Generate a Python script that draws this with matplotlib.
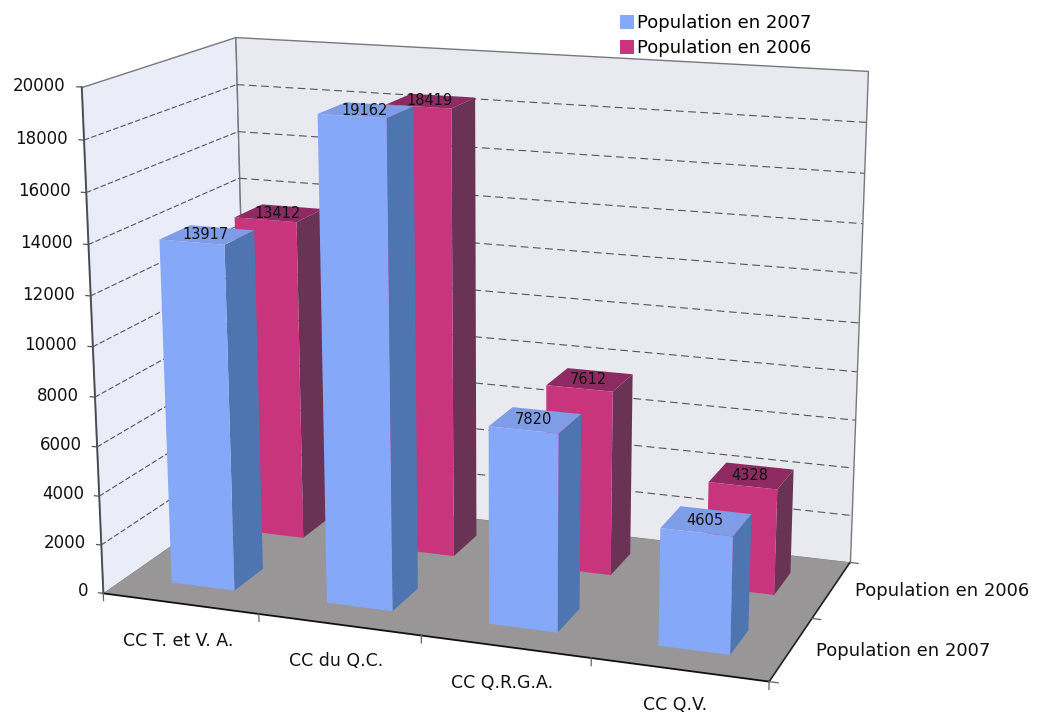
import numpy as np
import matplotlib
matplotlib.use('Agg')
import matplotlib.pyplot as plt
from matplotlib.patches import Patch
from mpl_toolkits.mplot3d import proj3d
from mpl_toolkits.mplot3d.art3d import Poly3DCollection

categories = ['CC T. et V. A.', 'CC du Q.C.', 'CC Q.R.G.A.', 'CC Q.V.']
series_names = ['Population en 2007', 'Population en 2006']
pop_2007 = [13917, 19162, 7820, 4605]
pop_2006 = [13412, 18419, 7612, 4328]
z_ticks = [0, 2000, 4000, 6000, 8000, 10000, 12000, 14000, 16000, 18000, 20000]
z_max = 20000

# camera: corners of the chart box (cat, series, value) and where they land in the image
box_pts = [(0, 0, 0), (4, 0, 0), (4, 2, 0), (0, 2, 0),
           (0, 0, z_max), (0, 2, z_max), (4, 2, z_max)]
img_pts = [(103, 593), (769, 682), (850, 562), (248, 493),
           (82, 87), (235, 37), (868, 71)]


def fit_camera(box, img):
    # least squares homography from 3d box to image, in -1..1 view coordinates
    rows = []
    for (x, y, z), (u, v) in zip(box, img):
        z = z / z_max
        u = u / 519 - 1
        v = 1 - v / 357.5
        rows.append([x, y, z, 1, 0, 0, 0, 0, -u*x, -u*y, -u*z, -u])
        rows.append([0, 0, 0, 0, x, y, z, 1, -v*x, -v*y, -v*z, -v])
    p = np.linalg.svd(np.array(rows))[2][-1].reshape(3, 4)
    p = p / p[2, 3]
    p = p @ np.diag([1, 1, 1 / z_max, 1])
    # third row only serves for depth sorting
    return np.array([p[0], p[1], [0, 0, 0, -1], p[2]])


cam = fit_camera(box_pts, img_pts)

fig = plt.figure(figsize=(10.38, 7.15), dpi=100)
ax = fig.add_axes([0, 0, 1, 1], projection='3d', computed_zorder=False)
ax.get_proj = lambda: cam
ax.apply_aspect = lambda position=None: None
ax.set_xticks([])
ax.set_yticks([])
ax.set_zticks([])
ax.set_axis_off()
ax.viewLim.intervalx = (-1, 1)
ax.viewLim.intervaly = (-1, 1)


def label(x, y, z, s, **kw):
    # put the text where the 3d point lands
    u, v, _ = proj3d.proj_transform(x, y, z, cam)
    ax.text2D(u, v, s, transform=ax.transData, va='center', color='#111111', **kw)


# walls and floor
walls = [[(0, 0, 0), (0, 2, 0), (0, 2, z_max), (0, 0, z_max)],
         [(0, 2, 0), (4, 2, 0), (4, 2, z_max), (0, 2, z_max)]]
ax.add_collection3d(Poly3DCollection([walls[0]], facecolor='#eaedf7', edgecolor='#77787f',
                                     linewidth=1, zorder=1))
ax.add_collection3d(Poly3DCollection([walls[1]], facecolor='#e9e9f0', edgecolor='#77787f',
                                     linewidth=1, zorder=1))
floor = [(0, 0, 0), (4, 0, 0), (4, 2, 0), (0, 2, 0)]
ax.add_collection3d(Poly3DCollection([floor], facecolor='#989696', edgecolor='none', zorder=2))

# grid
for v in z_ticks[1:-1]:
    ax.plot([0, 0], [0, 2], [v, v], color='#55565c', lw=0.8, ls=(0, (5, 2)), zorder=2)
    ax.plot([0, 4], [2, 2], [v, v], color='#55565c', lw=0.8, ls=(0, (7, 4)), zorder=2)

# axis lines and ticks
ax.plot([0, 4], [0, 0], [0, 0], color='#111111', lw=1.3, zorder=3)
ax.plot([4, 4], [0, 2], [0, 0], color='#222222', lw=1.2, zorder=3)
ax.plot([0, 0], [0, 0], [0, z_max], color='#4a4a52', lw=1.2, zorder=3)
for v in z_ticks:
    ax.plot([-0.03, 0], [0, 0], [v, v], color='#555555', lw=0.9, zorder=3)
    label(-0.1, 0, v, str(v), ha='right', fontsize=12)
for i in range(5):
    ax.plot([i, i], [0, 0], [-300, 0], color='#666666', lw=0.9, zorder=3)
for s in range(3):
    ax.plot([4, 4.05], [s, s], [0, 0], color='#666666', lw=0.9, zorder=3)

# labels under the floor, right of the floor
for i, cat in enumerate(categories):
    label(i + 0.48, 0, -1560 + 55 * i, cat, ha='center', fontsize=12.5)
for s, name in enumerate(series_names):
    label(4.14, s + 0.5, 50, name, ha='left', fontsize=13)

# bars: back row first
clear = (0, 0, 0, 0)
styles = [('#86a8f8', '#4f75b0', '#7f9ce6'), ('#c8357d', '#6a3355', '#8e2a62')]
values = [pop_2007, pop_2006]
bar_w, bar_d = 0.41, 0.40
for s in [1, 0]:
    front, side, top = styles[s]
    for i, val in enumerate(values[s]):
        x0 = i + 0.5 - bar_w / 2
        y0 = s + 0.5 - bar_d / 2
        # faces: bottom, top, front, back, left, right
        ax.bar3d([x0], [y0], [0], bar_w, bar_d, [val], shade=False, linewidth=0,
                 color=[clear, top, front, clear, clear, side], zorder=5 + (1 - s))
        label(x0 + bar_w / 2 - 0.01, y0 + bar_d / 2, val, str(val), ha='center',
              fontsize=10.5, zorder=9)

handles = [Patch(facecolor=styles[0][0], label=series_names[0]),
           Patch(facecolor=styles[1][0], label=series_names[1])]
fig.legend(handles=handles, loc='upper left', bbox_to_anchor=(0.5813, 1.0026), frameon=False,
           fontsize=13, handlelength=0.8, handleheight=0.8, handletextpad=0.15, labelspacing=0.38,
           borderpad=0.4)

fig.savefig('out.png', dpi=100)
